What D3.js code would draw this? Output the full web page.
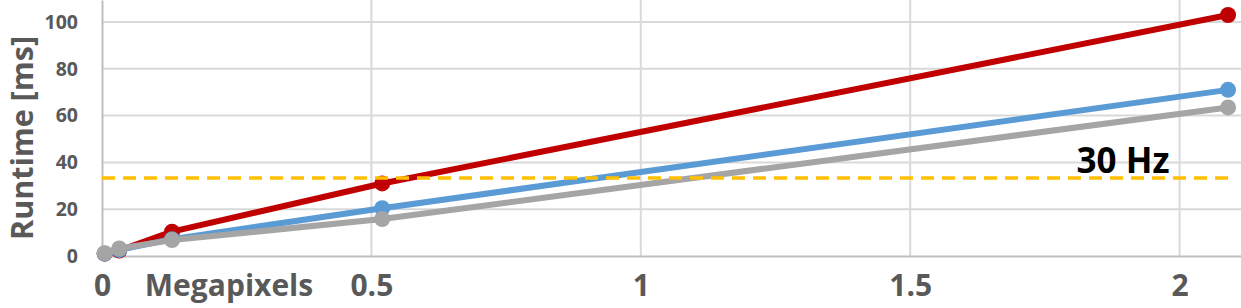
<!DOCTYPE html>
<html>
<head>
  <meta charset="utf-8">
  <title>Runtime</title>
  <style>
    body { margin: 0; background: #fff; }
    svg { display: block; }
    .tick text { fill: #595959; font-family: "Open Sans", sans-serif; font-weight: 700; }
  </style>
</head>
<body>
  <svg width="1241" height="308"></svg>
  <script src="https://cdnjs.cloudflare.com/ajax/libs/d3/7.8.5/d3.min.js"></script>
  <script>
    // megapixels per measurement
    const megapixels = [0.005, 0.032, 0.13, 0.52, 2.09];
    const redValues = [1.0, 2.3, 10.4, 31.0, 103.0];
    const blueValues = [1.0, 2.6, 7.2, 20.4, 71.0];
    const grayValues = [1.2, 3.2, 6.8, 15.8, 63.5];
    const xTicks = [0, 0.5, 1, 1.5, 2];
    const yTicks = [0, 20, 40, 60, 80, 100];
    const refValue = 1000 / 30;
    const refLabel = '30 Hz';

    const colors = { red: '#C00000', blue: '#5B9BD5', gray: '#A5A5A5' };
    const series = [
      { name: 'red', values: redValues },
      { name: 'blue', values: blueValues },
      { name: 'gray', values: grayValues }
    ];
    const font = '"Open Sans", sans-serif';

    const svg = d3.select('svg');
    const margin = { left: 102, right: 0, top: 0, bottom: 52 };
    const width = +svg.attr('width');
    const height = +svg.attr('height');

    const x = d3.scaleLinear().domain([0, 2.114]).range([margin.left, width - margin.right]);
    const y = d3.scaleLinear().domain([0, 109.4]).range([height - margin.bottom, margin.top]);

    // grid
    svg.append('g')
       .selectAll('line')
       .data(yTicks.slice(1))
       .enter().append('line')
       .attr('x1', x(0)).attr('x2', width)
       .attr('y1', d => y(d)).attr('y2', d => y(d))
       .attr('stroke', '#d9d9d9').attr('stroke-width', 2);

    svg.append('g')
       .selectAll('line')
       .data(xTicks.slice(1))
       .enter().append('line')
       .attr('x1', d => x(d)).attr('x2', d => x(d))
       .attr('y1', 0).attr('y2', y(0))
       .attr('stroke', '#d9d9d9').attr('stroke-width', 2);

    // axes
    const xAxis = d3.axisBottom(x).tickValues(xTicks).tickSize(0).tickPadding(19)
                    .tickFormat(d => d3.format('')(d));
    svg.append('g')
       .attr('transform', 'translate(0,' + y(0) + ')')
       .call(xAxis)
       .call(g => g.select('.domain').attr('stroke', '#bfbfbf').attr('stroke-width', 2))
       .selectAll('text').style('font-size', '30px');

    const yAxis = d3.axisLeft(y).tickValues(yTicks).tickSize(0).tickPadding(24);
    svg.append('g')
       .attr('transform', 'translate(' + x(0) + ',0)')
       .call(yAxis)
       .call(g => g.select('.domain').attr('stroke', '#bfbfbf').attr('stroke-width', 2))
       .selectAll('text').style('font-size', '19.5px');

    svg.append('text')
       .attr('x', 229).attr('y', 296)
       .attr('text-anchor', 'middle')
       .attr('fill', '#595959')
       .style('font-family', font).style('font-weight', 700).style('font-size', '30px')
       .text('Megapixels');

    svg.append('text')
       .attr('transform', 'translate(33,138) rotate(-90)')
       .attr('text-anchor', 'middle')
       .attr('fill', '#595959')
       .style('font-family', font).style('font-weight', 700).style('font-size', '30.5px')
       .text('Runtime [ms]');

    // series
    const line = d3.line().x((d, i) => x(megapixels[i])).y(d => y(d));
    const sg = svg.selectAll('g.series')
                  .data(series)
                  .enter().append('g').attr('class', 'series');
    sg.append('path')
      .attr('d', d => line(d.values))
      .attr('fill', 'none')
      .attr('stroke', d => colors[d.name])
      .attr('stroke-width', 6)
      .attr('stroke-linejoin', 'round');
    sg.selectAll('circle')
      .data(d => d.values.map((v, i) => ({ v: v, i: i, name: d.name })))
      .enter().append('circle')
      .attr('cx', d => x(megapixels[d.i]))
      .attr('cy', d => y(d.v))
      .attr('r', 8)
      .attr('fill', d => colors[d.name]);

    // 30 Hz reference
    svg.append('line')
       .attr('x1', x(0)).attr('x2', width - 8)
       .attr('y1', y(refValue)).attr('y2', y(refValue))
       .attr('stroke', '#FFC000').attr('stroke-width', 3.5)
       .attr('stroke-dasharray', '13,8');

    svg.append('text')
       .attr('x', 1123).attr('y', 172.5)
       .attr('text-anchor', 'middle')
       .attr('fill', '#000')
       .style('font-family', font).style('font-weight', 700).style('font-size', '35px')
       .text(refLabel);
  </script>
</body>
</html>
